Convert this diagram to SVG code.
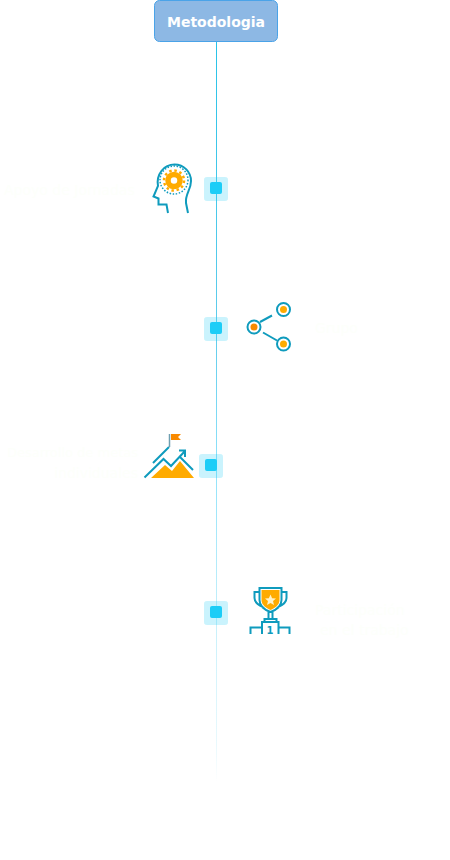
<svg xmlns="http://www.w3.org/2000/svg" width="450" height="860" viewBox="0 0 450 860">
<!-- The pale labels are almost white in the reference and hard to read: their wording is a best reading, not a certain one. -->
<style>
.ln{fill:none;stroke:#0f9bbd;stroke-width:2}
.faint{font-family:"DejaVu Sans",sans-serif;font-size:14px;fill:#fdfffb}
.small{font-size:13px}
.sq{fill:#1ccdf7}
.halo{fill:#1ccdf7;fill-opacity:.24;filter:url(#soft)}
</style>
<defs>
<linearGradient id="fade" gradientUnits="userSpaceOnUse" x1="216" y1="42" x2="216" y2="782">
<stop offset="0" stop-color="#28c3e8"/><stop offset="0.4" stop-color="#62cdec"/><stop offset="0.57" stop-color="#8fe2fa"/><stop offset="0.78" stop-color="#c6f0fb"/><stop offset="0.95" stop-color="#e9f9fd"/><stop offset="1" stop-color="#ffffff"/>
</linearGradient>
<filter id="soft" x="-20%" y="-20%" width="140%" height="140%"><feGaussianBlur stdDeviation="0.600"/></filter>
</defs>
<rect width="450" height="860" fill="#fff"/>
<g id="connectors"><rect x="216" y="42" width="1" height="740" fill="url(#fade)"/></g>
<g id="node-metodologia">
<rect x="154.500" y="0.500" width="123" height="41" rx="5" fill="#8db8e4" stroke="#4aa3e8"/>
<text x="216" y="27" text-anchor="middle" font-family="DejaVu Sans,sans-serif" font-size="14" font-weight="700" fill="#fff">Metodologia</text>
</g>
<g id="node-1">
<rect x="204" y="177" width="24" height="24" rx="3" class="halo"/><rect x="210" y="182" width="12" height="12" rx="2" class="sq"/>
<text x="4" y="195" class="faint">Apoyo de Jornadas</text>
<path class="ln" d="M168 213L166.500 204.500H158.500V198.500L153.500 196.500L158 186C156 174 164 164.500 174.500 164.500C184 164.500 191 172 191 181C191 190 185 194 186 203L188 213"/>
<circle cx="174" cy="180" r="14" fill="none" stroke="#0f9bbd" stroke-width="1.500" stroke-dasharray="1.500 1.600"/>
<circle cx="174" cy="180.500" r="6" fill="none" stroke="#ffab00" stroke-width="5.500"/>
<circle cx="174" cy="180.500" r="10" fill="none" stroke="#ffab00" stroke-width="2.500" stroke-dasharray="2.500 2.740"/>
</g>
<g id="node-2">
<rect x="204" y="317" width="24" height="24" rx="3" class="halo"/><rect x="210" y="322" width="12" height="12" rx="2" class="sq"/>
<circle cx="254" cy="327" r="6.500" fill="#fff" stroke="#0f9bbd" stroke-width="2"/><circle cx="254" cy="327" r="3.500" fill="#f98a00"/>
<circle cx="283.500" cy="309.500" r="6.500" fill="#fff" stroke="#0f9bbd" stroke-width="2"/><circle cx="283.500" cy="309.500" r="3.500" fill="#ffab00"/>
<circle cx="283.500" cy="344" r="6.500" fill="#fff" stroke="#0f9bbd" stroke-width="2"/><circle cx="283.500" cy="344" r="3.500" fill="#ffab00"/>
<path class="ln" d="M260 322L272 315.500M263 332.500L277 340.500"/>
<text x="315" y="333" class="faint">Grupo</text>
</g>
<g id="node-3">
<rect x="199" y="454" width="24" height="24" rx="3" class="halo"/><rect x="205" y="459" width="12" height="12" rx="2" class="sq"/>
<text x="138" y="457" text-anchor="end" class="faint small">Desarrollo de metas</text>
<text x="138" y="478" text-anchor="end" class="faint">individuales</text>
<path fill="#ffab00" d="M151 478L165 465L172 471L180 461L194 478Z"/>
<path class="ln" d="M144.500 477.500L163.500 459L171 466L185 451M179 450.500H185V457M153 463L169 447M180 457L193 470"/>
<path fill="none" stroke="#6f9fb0" stroke-width="1.500" d="M169.500 447V434"/>
<path fill="#f98a00" d="M171 434H181L178 437L181 440H171Z"/>
</g>
<g id="node-4">
<rect x="204" y="601" width="24" height="24" rx="3" class="halo"/><rect x="210" y="606" width="12" height="12" rx="2" class="sq"/>
<path fill="#ffab00" d="M261.500 590H279.500V600C279.500 605 275 608 270.500 610C266 608 261.500 605 261.500 600Z"/>
<path class="ln" d="M259.500 588H281.500V600C281.500 606 276 610 270.500 612C265 610 259.500 606 259.500 600ZM259.500 592H254.500V598C254.500 602 258 605 263 607M281.500 592H286.500V598C286.500 602 283 605 278 607M268.500 612V618.500M272.500 612V618.500M264.500 621V619H276.500V621M250.500 634V627.500H262M262 634V622H278.500V634M278.500 627.500H289.500V634"/>
<path fill="#fff3c8" d="M270.500 594.500L272.100 598.300L276 598.600L273 601.100L274 605L270.500 603L267 605L268 601.100L265 598.600L268.900 598.300Z"/>
<text x="270" y="634" text-anchor="middle" font-family="DejaVu Sans,sans-serif" font-size="10" font-weight="700" fill="#0f9bbd">1</text>
<text x="315" y="615" class="faint">Participación</text>
<text x="320" y="635" class="faint">en el trabajo</text>
</g>
</svg>
